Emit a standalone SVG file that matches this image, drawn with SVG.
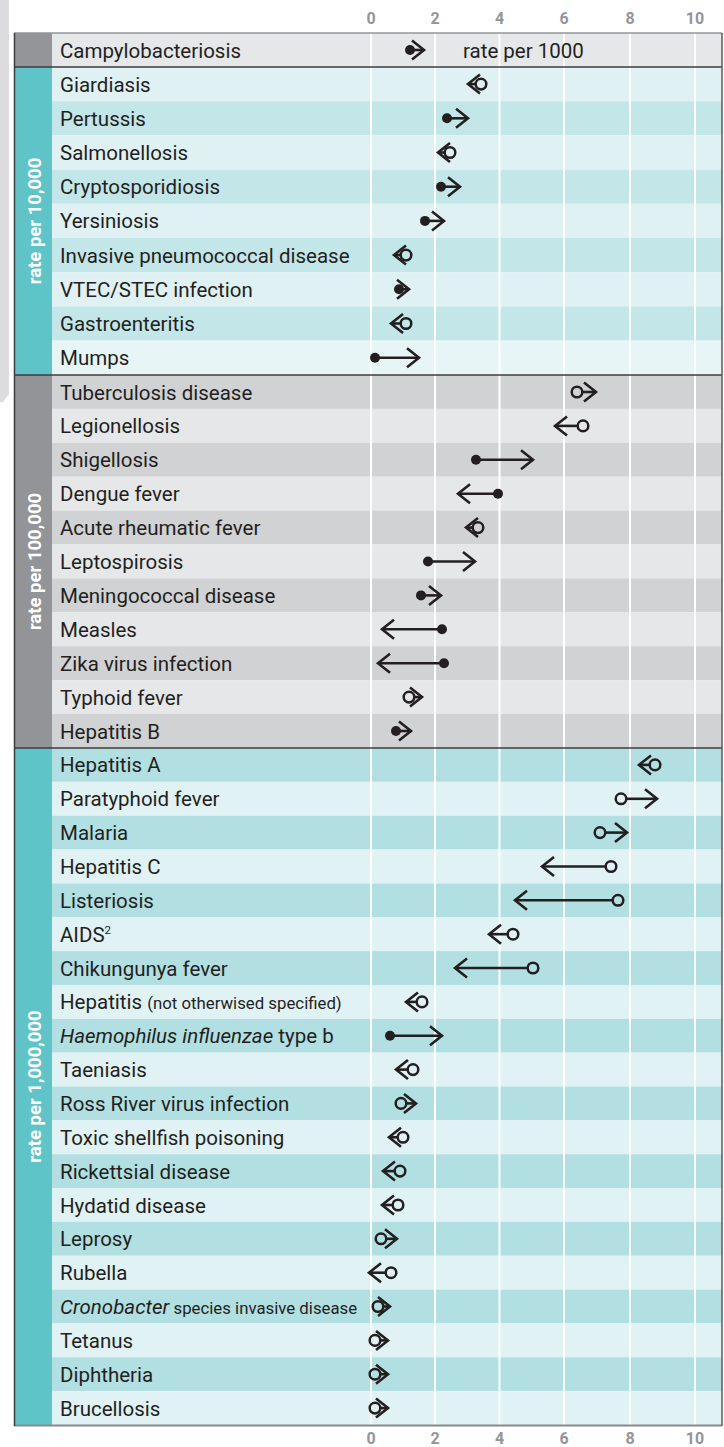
<svg xmlns="http://www.w3.org/2000/svg" width="724" height="1447" viewBox="0 0 724 1447">
<style>
.lbl{font-family:Roboto,"Liberation Sans",sans-serif;font-size:20.5px;fill:#231f20}
.sm{font-size:16.8px}
.it{font-style:italic}
.ax{font-family:Roboto,"Liberation Sans",sans-serif;font-weight:700;font-size:16px;fill:#939598;text-anchor:middle}
.side{font-family:Roboto,"Liberation Sans",sans-serif;font-weight:700;font-size:18.5px;fill:#ffffff;text-anchor:middle}
.ln{stroke:#231f20;stroke-width:2.6;fill:none}
.dot{fill:#231f20}
.ring{fill:none;stroke:#231f20;stroke-width:2.5}
.grid{stroke:#ffffff;stroke-width:2}
.gA1{fill:#dff1f3}.gA2{fill:#c3e6e9}
.gB1{fill:#d1d2d4}.gB2{fill:#e6e7e8}
.gC1{fill:#b1dfe2}.gC2{fill:#e0f2f4}
</style>
<defs>
<path id="chR" d="M-12,-9.5 L0,0 L-12,9.5" class="ln"/>
<path id="chL" d="M12,-9.5 L0,0 L12,9.5" class="ln"/>
<circle id="dt" r="5" class="dot"/>
<circle id="rg" r="5.3" class="ring"/>
</defs>
<rect width="724" height="1447" fill="#ffffff"/>
<path d="M0,0 H9 V394 L3,402 H0 Z" fill="#dcdcde"/>
<g id="backgrounds">
<rect x="14" y="33" width="38" height="34" fill="#939598"/>
<rect x="52" y="33" width="670" height="34" fill="#e6e7e8"/>
<rect x="14" y="67" width="38" height="308" fill="#5ec4c8"/>
<rect x="14" y="375" width="38" height="373" fill="#929497"/>
<rect x="14" y="748" width="38" height="677" fill="#5ec4c8"/>
<rect x="52" y="67" width="670" height="34.2" class="gA1"/>
<rect x="52" y="101.2" width="670" height="34.2" class="gA2"/>
<rect x="52" y="135.4" width="670" height="34.2" class="gA1"/>
<rect x="52" y="169.6" width="670" height="34.2" class="gA2"/>
<rect x="52" y="203.8" width="670" height="34.2" class="gA1"/>
<rect x="52" y="238" width="670" height="34.2" class="gA2"/>
<rect x="52" y="272.2" width="670" height="34.2" class="gA1"/>
<rect x="52" y="306.4" width="670" height="34.2" class="gA2"/>
<rect x="52" y="340.6" width="670" height="34.4" fill="#e8f5f6"/>
<rect x="52" y="375" width="670" height="33.9" class="gB1"/>
<rect x="52" y="408.9" width="670" height="33.9" class="gB2"/>
<rect x="52" y="442.8" width="670" height="33.9" class="gB1"/>
<rect x="52" y="476.7" width="670" height="33.9" class="gB2"/>
<rect x="52" y="510.6" width="670" height="33.9" class="gB1"/>
<rect x="52" y="544.5" width="670" height="33.9" class="gB2"/>
<rect x="52" y="578.4" width="670" height="33.9" class="gB1"/>
<rect x="52" y="612.3" width="670" height="33.9" class="gB2"/>
<rect x="52" y="646.2" width="670" height="33.9" class="gB1"/>
<rect x="52" y="680.1" width="670" height="33.9" class="gB2"/>
<rect x="52" y="714" width="670" height="34" class="gB1"/>
<rect x="52" y="748" width="670" height="33.85" class="gC1"/>
<rect x="52" y="781.85" width="670" height="33.85" class="gC2"/>
<rect x="52" y="815.7" width="670" height="33.85" class="gC1"/>
<rect x="52" y="849.55" width="670" height="33.85" class="gC2"/>
<rect x="52" y="883.4" width="670" height="33.85" class="gC1"/>
<rect x="52" y="917.25" width="670" height="33.85" class="gC2"/>
<rect x="52" y="951.1" width="670" height="33.85" class="gC1"/>
<rect x="52" y="984.95" width="670" height="33.85" class="gC2"/>
<rect x="52" y="1018.8" width="670" height="33.85" class="gC1"/>
<rect x="52" y="1052.65" width="670" height="33.85" class="gC2"/>
<rect x="52" y="1086.5" width="670" height="33.85" class="gC1"/>
<rect x="52" y="1120.35" width="670" height="33.85" class="gC2"/>
<rect x="52" y="1154.2" width="670" height="33.85" class="gC1"/>
<rect x="52" y="1188.05" width="670" height="33.85" class="gC2"/>
<rect x="52" y="1221.9" width="670" height="33.85" class="gC1"/>
<rect x="52" y="1255.75" width="670" height="33.85" class="gC2"/>
<rect x="52" y="1289.6" width="670" height="33.85" class="gC1"/>
<rect x="52" y="1323.45" width="670" height="33.85" class="gC2"/>
<rect x="52" y="1357.3" width="670" height="33.85" class="gC1"/>
<rect x="52" y="1391.15" width="670" height="33.85" class="gC2"/>
</g>
<g id="gridlines">
<line x1="371" y1="33" x2="371" y2="1425" class="grid"/>
<line x1="435" y1="33" x2="435" y2="1425" class="grid"/>
<line x1="499.5" y1="33" x2="499.5" y2="1425" class="grid"/>
<line x1="564" y1="33" x2="564" y2="1425" class="grid"/>
<line x1="630" y1="33" x2="630" y2="1425" class="grid"/>
<line x1="695" y1="33" x2="695" y2="1425" class="grid"/>
</g>
<g id="frame">
<line x1="14" y1="33" x2="722" y2="33" stroke="#939598" stroke-width="1.5"/>
<line x1="14" y1="67" x2="722" y2="67" stroke="#3c3c3e" stroke-width="1.5"/>
<line x1="14" y1="375" x2="722" y2="375" stroke="#3c3c3e" stroke-width="1.5"/>
<line x1="14" y1="748" x2="722" y2="748" stroke="#3c3c3e" stroke-width="1.5"/>
<line x1="14" y1="1425.5" x2="722" y2="1425.5" stroke="#8a8a8c" stroke-width="2"/>
<line x1="14.5" y1="33" x2="14.5" y2="1426" stroke="#3c3c3e" stroke-width="1.5"/>
<line x1="722" y1="33" x2="722" y2="1426" stroke="#58585a" stroke-width="1.5"/>
</g>
<g id="axis-top">
<text x="371" y="24" class="ax">0</text>
<text x="435" y="24" class="ax">2</text>
<text x="499.5" y="24" class="ax">4</text>
<text x="564" y="24" class="ax">6</text>
<text x="630" y="24" class="ax">8</text>
<text x="695" y="24" class="ax">10</text>
</g>
<g id="axis-bottom">
<text x="371" y="1444" class="ax">0</text>
<text x="435" y="1444" class="ax">2</text>
<text x="499.5" y="1444" class="ax">4</text>
<text x="564" y="1444" class="ax">6</text>
<text x="630" y="1444" class="ax">8</text>
<text x="695" y="1444" class="ax">10</text>
</g>
<g id="section-labels">
<text class="side" transform="translate(41,221) rotate(-90)">rate per 10,000</text>
<text class="side" transform="translate(41,561.5) rotate(-90)">rate per 100,000</text>
<text class="side" transform="translate(41,1086.5) rotate(-90)">rate per 1,000,000</text>
</g>
<text x="463" y="57.5" class="lbl">rate per 1000</text>
<g id="connectors">
<line x1="410" y1="50" x2="424" y2="50" class="ln"/>
<line x1="476" y1="84.1" x2="468" y2="84.1" class="ln"/>
<line x1="447" y1="118.3" x2="468" y2="118.3" class="ln"/>
<line x1="445" y1="152.5" x2="438" y2="152.5" class="ln"/>
<line x1="441" y1="186.7" x2="460" y2="186.7" class="ln"/>
<line x1="425" y1="220.9" x2="444" y2="220.9" class="ln"/>
<line x1="401" y1="255.1" x2="394" y2="255.1" class="ln"/>
<line x1="399" y1="289.3" x2="409" y2="289.3" class="ln"/>
<line x1="401" y1="323.5" x2="391" y2="323.5" class="ln"/>
<line x1="375" y1="357.8" x2="419" y2="357.8" class="ln"/>
<line x1="582" y1="392" x2="596" y2="392" class="ln"/>
<line x1="578" y1="425.9" x2="555" y2="425.9" class="ln"/>
<line x1="476" y1="459.8" x2="533" y2="459.8" class="ln"/>
<line x1="498" y1="493.7" x2="458" y2="493.7" class="ln"/>
<line x1="473" y1="527.6" x2="466" y2="527.6" class="ln"/>
<line x1="428" y1="561.5" x2="475" y2="561.5" class="ln"/>
<line x1="421" y1="595.4" x2="441" y2="595.4" class="ln"/>
<line x1="442" y1="629.3" x2="382" y2="629.3" class="ln"/>
<line x1="444" y1="663.2" x2="378" y2="663.2" class="ln"/>
<line x1="414" y1="697.1" x2="422" y2="697.1" class="ln"/>
<line x1="396" y1="731" x2="411" y2="731" class="ln"/>
<line x1="650" y1="764.9" x2="639" y2="764.9" class="ln"/>
<line x1="626" y1="798.8" x2="657" y2="798.8" class="ln"/>
<line x1="605" y1="832.6" x2="627" y2="832.6" class="ln"/>
<line x1="606" y1="866.5" x2="542" y2="866.5" class="ln"/>
<line x1="613" y1="900.3" x2="515" y2="900.3" class="ln"/>
<line x1="508" y1="934.2" x2="489" y2="934.2" class="ln"/>
<line x1="528" y1="968" x2="455" y2="968" class="ln"/>
<line x1="417" y1="1001.9" x2="406" y2="1001.9" class="ln"/>
<line x1="390" y1="1035.7" x2="442" y2="1035.7" class="ln"/>
<line x1="408" y1="1069.6" x2="396" y2="1069.6" class="ln"/>
<line x1="406" y1="1103.4" x2="416" y2="1103.4" class="ln"/>
<line x1="398" y1="1137.3" x2="389" y2="1137.3" class="ln"/>
<line x1="395" y1="1171.1" x2="383" y2="1171.1" class="ln"/>
<line x1="393" y1="1205" x2="382" y2="1205" class="ln"/>
<line x1="386" y1="1238.8" x2="397" y2="1238.8" class="ln"/>
<line x1="386" y1="1272.7" x2="369" y2="1272.7" class="ln"/>
<line x1="383" y1="1306.5" x2="390" y2="1306.5" class="ln"/>
<line x1="380" y1="1340.4" x2="388" y2="1340.4" class="ln"/>
<line x1="380" y1="1374.2" x2="388" y2="1374.2" class="ln"/>
<line x1="380" y1="1408.1" x2="388" y2="1408.1" class="ln"/>
</g>
<g id="r0"><text x="60" y="57.5" class="lbl">Campylobacteriosis</text><use href="#dt" x="410" y="50"/><use href="#chR" x="424" y="50"/></g>
<g id="r1"><text x="60" y="91.6" class="lbl">Giardiasis</text><use href="#rg" x="481" y="84.1"/><use href="#chL" x="468" y="84.1"/></g>
<g id="r2"><text x="60" y="125.8" class="lbl">Pertussis</text><use href="#dt" x="447" y="118.3"/><use href="#chR" x="468" y="118.3"/></g>
<g id="r3"><text x="60" y="160" class="lbl">Salmonellosis</text><use href="#rg" x="450" y="152.5"/><use href="#chL" x="438" y="152.5"/></g>
<g id="r4"><text x="60" y="194.2" class="lbl">Cryptosporidiosis</text><use href="#dt" x="441" y="186.7"/><use href="#chR" x="460" y="186.7"/></g>
<g id="r5"><text x="60" y="228.4" class="lbl">Yersiniosis</text><use href="#dt" x="425" y="220.9"/><use href="#chR" x="444" y="220.9"/></g>
<g id="r6"><text x="60" y="262.6" class="lbl">Invasive pneumococcal disease</text><use href="#rg" x="406" y="255.1"/><use href="#chL" x="394" y="255.1"/></g>
<g id="r7"><text x="60" y="296.8" class="lbl">VTEC/STEC infection</text><use href="#dt" x="399" y="289.3"/><use href="#chR" x="409" y="289.3"/></g>
<g id="r8"><text x="60" y="331" class="lbl">Gastroenteritis</text><use href="#rg" x="406" y="323.5"/><use href="#chL" x="391" y="323.5"/></g>
<g id="r9"><text x="60" y="365.3" class="lbl">Mumps</text><use href="#dt" x="375" y="357.8"/><use href="#chR" x="419" y="357.8"/></g>
<g id="r10"><text x="60" y="399.5" class="lbl">Tuberculosis disease</text><use href="#rg" x="577" y="392"/><use href="#chR" x="596" y="392"/></g>
<g id="r11"><text x="60" y="433.4" class="lbl">Legionellosis</text><use href="#rg" x="583" y="425.9"/><use href="#chL" x="555" y="425.9"/></g>
<g id="r12"><text x="60" y="467.3" class="lbl">Shigellosis</text><use href="#dt" x="476" y="459.8"/><use href="#chR" x="533" y="459.8"/></g>
<g id="r13"><text x="60" y="501.2" class="lbl">Dengue fever</text><use href="#dt" x="498" y="493.7"/><use href="#chL" x="458" y="493.7"/></g>
<g id="r14"><text x="60" y="535.1" class="lbl">Acute rheumatic fever</text><use href="#rg" x="478" y="527.6"/><use href="#chL" x="466" y="527.6"/></g>
<g id="r15"><text x="60" y="569" class="lbl">Leptospirosis</text><use href="#dt" x="428" y="561.5"/><use href="#chR" x="475" y="561.5"/></g>
<g id="r16"><text x="60" y="602.9" class="lbl">Meningococcal disease</text><use href="#dt" x="421" y="595.4"/><use href="#chR" x="441" y="595.4"/></g>
<g id="r17"><text x="60" y="636.8" class="lbl">Measles</text><use href="#dt" x="442" y="629.3"/><use href="#chL" x="382" y="629.3"/></g>
<g id="r18"><text x="60" y="670.7" class="lbl">Zika virus infection</text><use href="#dt" x="444" y="663.2"/><use href="#chL" x="378" y="663.2"/></g>
<g id="r19"><text x="60" y="704.6" class="lbl">Typhoid fever</text><use href="#rg" x="409" y="697.1"/><use href="#chR" x="422" y="697.1"/></g>
<g id="r20"><text x="60" y="738.5" class="lbl">Hepatitis B</text><use href="#dt" x="396" y="731"/><use href="#chR" x="411" y="731"/></g>
<g id="r21"><text x="60" y="772.4" class="lbl">Hepatitis A</text><use href="#rg" x="655" y="764.9"/><use href="#chL" x="639" y="764.9"/></g>
<g id="r22"><text x="60" y="806.3" class="lbl">Paratyphoid fever</text><use href="#rg" x="621" y="798.8"/><use href="#chR" x="657" y="798.8"/></g>
<g id="r23"><text x="60" y="840.1" class="lbl">Malaria</text><use href="#rg" x="600" y="832.6"/><use href="#chR" x="627" y="832.6"/></g>
<g id="r24"><text x="60" y="874" class="lbl">Hepatitis C</text><use href="#rg" x="611" y="866.5"/><use href="#chL" x="542" y="866.5"/></g>
<g id="r25"><text x="60" y="907.8" class="lbl">Listeriosis</text><use href="#rg" x="618" y="900.3"/><use href="#chL" x="515" y="900.3"/></g>
<g id="r26"><text x="60" y="941.7" class="lbl">AIDS<tspan font-size="11.5" dy="-8">2</tspan></text><use href="#rg" x="513" y="934.2"/><use href="#chL" x="489" y="934.2"/></g>
<g id="r27"><text x="60" y="975.5" class="lbl">Chikungunya fever</text><use href="#rg" x="533" y="968"/><use href="#chL" x="455" y="968"/></g>
<g id="r28"><text x="60" y="1009.4" class="lbl">Hepatitis <tspan class="sm">(not otherwised specified)</tspan></text><use href="#rg" x="422" y="1001.9"/><use href="#chL" x="406" y="1001.9"/></g>
<g id="r29"><text x="60" y="1043.2" class="lbl"><tspan class="it">Haemophilus influenzae</tspan> type b</text><use href="#dt" x="390" y="1035.7"/><use href="#chR" x="442" y="1035.7"/></g>
<g id="r30"><text x="60" y="1077.1" class="lbl">Taeniasis</text><use href="#rg" x="413" y="1069.6"/><use href="#chL" x="396" y="1069.6"/></g>
<g id="r31"><text x="60" y="1110.9" class="lbl">Ross River virus infection</text><use href="#rg" x="401" y="1103.4"/><use href="#chR" x="416" y="1103.4"/></g>
<g id="r32"><text x="60" y="1144.8" class="lbl">Toxic shellfish poisoning</text><use href="#rg" x="403" y="1137.3"/><use href="#chL" x="389" y="1137.3"/></g>
<g id="r33"><text x="60" y="1178.6" class="lbl">Rickettsial disease</text><use href="#rg" x="400" y="1171.1"/><use href="#chL" x="383" y="1171.1"/></g>
<g id="r34"><text x="60" y="1212.5" class="lbl">Hydatid disease</text><use href="#rg" x="398" y="1205"/><use href="#chL" x="382" y="1205"/></g>
<g id="r35"><text x="60" y="1246.3" class="lbl">Leprosy</text><use href="#rg" x="381" y="1238.8"/><use href="#chR" x="397" y="1238.8"/></g>
<g id="r36"><text x="60" y="1280.2" class="lbl">Rubella</text><use href="#rg" x="391" y="1272.7"/><use href="#chL" x="369" y="1272.7"/></g>
<g id="r37"><text x="60" y="1314" class="lbl"><tspan class="it">Cronobacter</tspan><tspan class="sm"> species invasive disease</tspan></text><use href="#rg" x="378" y="1306.5"/><use href="#chR" x="390" y="1306.5"/></g>
<g id="r38"><text x="60" y="1347.9" class="lbl">Tetanus</text><use href="#rg" x="375" y="1340.4"/><use href="#chR" x="388" y="1340.4"/></g>
<g id="r39"><text x="60" y="1381.7" class="lbl">Diphtheria</text><use href="#rg" x="375" y="1374.2"/><use href="#chR" x="388" y="1374.2"/></g>
<g id="r40"><text x="60" y="1415.6" class="lbl">Brucellosis</text><use href="#rg" x="375" y="1408.1"/><use href="#chR" x="388" y="1408.1"/></g>
</svg>
